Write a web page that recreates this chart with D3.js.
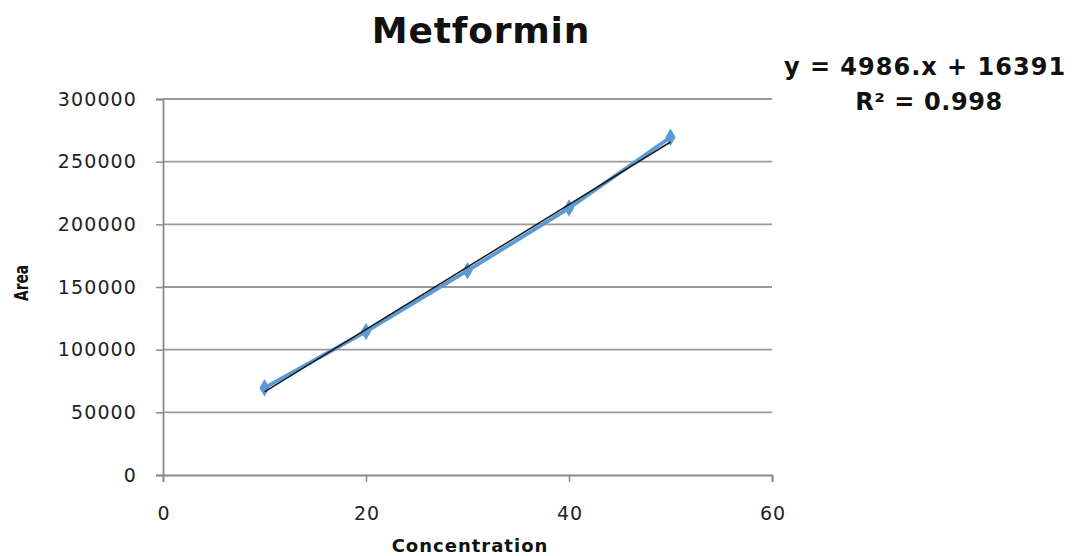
<!DOCTYPE html>
<html><head><meta charset="utf-8">
<script src="https://cdn.jsdelivr.net/npm/d3@7"></script>
<style>body{margin:0;background:#fff}svg{display:block}</style>
</head><body>
<script>
const concentration = [10, 20, 30, 40, 50];
const area = [69500, 114500, 163000, 213000, 269500];
const slope = 4986;
const intercept = 16391;
const yTicks = [0, 50000, 100000, 150000, 200000, 250000, 300000];
const xTicks = [0, 20, 40, 60];
const title = "Metformin";
const eqText = "y = 4986.x + 16391";
const r2Text = "R² = 0.998";

const W = 1073, H = 556;
const FONT = "DejaVu Sans, Verdana, sans-serif";
const svg = d3.select("body").append("svg").attr("width", W).attr("height", H);
const x = d3.scaleLinear().domain([0, 60]).range([163, 772]);
const y = d3.scaleLinear().domain([0, 300000]).range([475, 99]);

// gridlines
svg.append("g").selectAll("line").data(yTicks.filter(d => d > 0)).join("line")
  .attr("x1", x(0)).attr("x2", x(60)).attr("y1", d => y(d)).attr("y2", d => y(d))
  .attr("stroke", "#9a9a9a").attr("stroke-width", 1.8);

// y axis
const ya = svg.append("g").attr("transform", `translate(${x(0)},0)`)
  .call(d3.axisLeft(y).tickValues(yTicks).tickFormat(d3.format("d")).tickSize(7).tickPadding(20));
ya.select(".domain").attr("stroke", "#8a8a8a").attr("stroke-width", 1.8);
ya.selectAll(".tick line").attr("stroke", "#8a8a8a").attr("stroke-width", 1.5);
ya.selectAll("text").attr("font-family", FONT).attr("font-size", 19).attr("letter-spacing", 1.1)
  .attr("fill", "#222").attr("dx", 1);

// x axis
const xa = svg.append("g").attr("transform", `translate(0,${y(0)})`)
  .call(d3.axisBottom(x).tickValues(xTicks).tickSize(7).tickPadding(25));
xa.select(".domain").attr("stroke", "#8a8a8a").attr("stroke-width", 1.8);
xa.selectAll(".tick line").attr("stroke", "#8a8a8a").attr("stroke-width", 1.5);
xa.selectAll("text").attr("font-family", FONT).attr("font-size", 19).attr("letter-spacing", 1.1)
  .attr("fill", "#222").attr("dx", 0.6);

// series
const pts = concentration.map((c, i) => [c, area[i]]);
svg.append("path").datum(pts)
  .attr("d", d3.line().x(d => x(d[0])).y(d => y(d[1])))
  .attr("fill", "none").attr("stroke", "#5b9bd5").attr("stroke-width", 3.8);
svg.append("g").selectAll("path").data(pts).join("path")
  .attr("transform", d => `translate(${x(d[0])},${y(d[1])})`)
  .attr("d", d3.symbol().type(d3.symbolDiamond).size(90))
  .attr("fill", "#5b9bd5");

// trendline
const tx = d3.extent(concentration);
svg.append("path").datum(tx.map(c => [c, slope * c + intercept]))
  .attr("d", d3.line().x(d => x(d[0])).y(d => y(d[1])))
  .attr("fill", "none").attr("stroke", "#1a1a1a").attr("stroke-width", 1.5);

// texts
svg.append("text").attr("x", 481).attr("y", 43).attr("text-anchor", "middle")
  .attr("font-family", FONT).attr("font-weight", "bold").attr("font-size", 36).attr("letter-spacing", 0.8)
  .attr("fill", "#111").text(title);
svg.append("text").attr("x", 925).attr("y", 75).attr("text-anchor", "middle")
  .attr("font-family", FONT).attr("font-weight", "bold").attr("font-size", 24).attr("letter-spacing", 1)
  .attr("fill", "#111").text(eqText);
svg.append("text").attr("x", 929).attr("y", 110).attr("text-anchor", "middle")
  .attr("font-family", FONT).attr("font-weight", "bold").attr("font-size", 24).attr("letter-spacing", 0.6)
  .attr("fill", "#111").text(r2Text);
svg.append("text").attr("x", 470).attr("y", 552).attr("text-anchor", "middle")
  .attr("font-family", FONT).attr("font-weight", "bold").attr("font-size", 18).attr("letter-spacing", 1)
  .attr("fill", "#111").text("Concentration");
svg.append("text").attr("transform", "translate(28,283) rotate(-90)").attr("text-anchor", "middle")
  .attr("font-family", FONT).attr("font-weight", "bold").attr("font-size", 19)
  .attr("textLength", 36).attr("lengthAdjust", "spacingAndGlyphs")
  .attr("fill", "#111").text("Area");
</script>
</body></html>
